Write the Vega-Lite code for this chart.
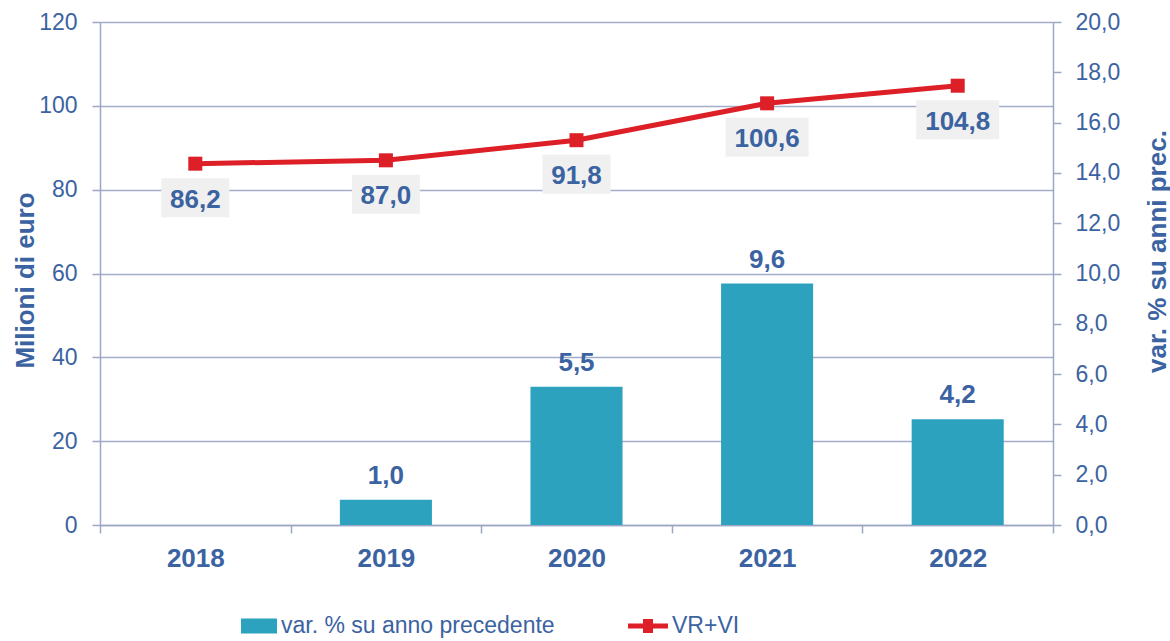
{
  "$schema": "https://vega.github.io/schema/vega-lite/v6.json",
  "width": 953,
  "height": 503,
  "autosize": {"type": "none"},
  "padding": {"left": 100, "top": 22, "right": 117, "bottom": 116},
  "background": "white",
  "config": {
    "view": {"stroke": null},
    "font": "Liberation Sans",
    "locale": {"number": {"decimal": ",", "thousands": ".", "grouping": [3], "currency": ["", " €"]}},
    "axis": {
      "domainColor": "#9CA7C5", "tickColor": "#9CA7C5", "gridColor": "#A3ADCA",
      "domainWidth": 1.5, "tickWidth": 1.5, "gridWidth": 1.5,
      "labelColor": "#3B63A1", "titleColor": "#3B63A1",
      "labelFont": "Liberation Sans", "titleFont": "Liberation Sans", "tickSize": 8
    }
  },
  "data": {"values": [
    {"anno": "2018", "vrvi": 86.2, "var": null},
    {"anno": "2019", "vrvi": 87.0, "var": 1.0},
    {"anno": "2020", "vrvi": 91.8, "var": 5.5},
    {"anno": "2021", "vrvi": 100.6, "var": 9.6},
    {"anno": "2022", "vrvi": 104.8, "var": 4.2}
  ]},
  "encoding": {
    "x": {
      "field": "anno", "type": "ordinal",
      "scale": {"paddingInner": 0, "paddingOuter": 0},
      "axis": {"title": null, "labelAngle": 0, "tickBand": "extent", "labelFontSize": 26, "labelFontWeight": "bold", "labelBaseline": "alphabetic", "labelPadding": 33, "grid": false}
    }
  },
  "layer": [
    {
      "encoding": {
        "y": {
          "field": "var", "type": "quantitative",
          "scale": {"domain": [0, 20], "nice": false},
          "axis": {
            "orient": "right", "values": [0, 2, 4, 6, 8, 10, 12, 14, 16, 18, 20], "format": ".1f",
            "grid": false, "labelFontSize": 23, "labelPadding": 14,
            "title": "var. % su anni prec.", "titleFontSize": 26, "titleFontWeight": "bold",
            "titleAngle": 270, "titleX": 112, "titleY": 229, "titleAlign": "center", "titleBaseline": "alphabetic"
          }
        }
      },
      "layer": [
        {
          "mark": {"type": "bar", "width": {"band": 0.483}},
          "encoding": {
            "color": {
              "datum": "var. % su anno precedente", "type": "nominal",
              "scale": {"range": ["#2DA2BF"]},
              "legend": {
                "orient": "none", "legendX": 141, "legendY": 586, "title": null, "padding": 0,
                "symbolType": "M-1,-0.417H1V0.417H-1Z", "symbolSize": 1296, "symbolStrokeWidth": 0,
                "labelFontSize": 23, "labelColor": "#3B63A1", "labelFont": "Liberation Sans", "labelOffset": 4, "labelLimit": 0
              }
            }
          }
        },
        {
          "mark": {"type": "text", "dy": -16, "baseline": "alphabetic", "fontSize": 26, "fontWeight": "bold", "color": "#3B63A1"},
          "encoding": {"text": {"field": "var", "type": "quantitative", "format": ".1f"}}
        }
      ]
    },
    {
      "encoding": {
        "y": {
          "field": "vrvi", "type": "quantitative",
          "scale": {"domain": [0, 120], "nice": false},
          "axis": {
            "orient": "left", "values": [0, 20, 40, 60, 80, 100, 120],
            "grid": true, "labelFontSize": 23, "labelPadding": 15,
            "title": "Milioni di euro", "titleFontSize": 26, "titleFontWeight": "bold",
            "titleAngle": 270, "titleX": -67, "titleY": 258, "titleAlign": "center", "titleBaseline": "alphabetic"
          }
        }
      },
      "layer": [
        {
          "mark": {"type": "line", "strokeWidth": 5},
          "encoding": {
            "color": {
              "datum": "VR+VI", "type": "nominal",
              "scale": {"range": ["#DD1F27"]},
              "legend": {
                "orient": "none", "legendX": 528, "legendY": 584, "title": null, "padding": 0,
                "symbolType": "M-1,-0.125H-0.25V-0.35H0.25V-0.125H1V0.125H0.25V0.35H-0.25V0.125H-1Z",
                "symbolSize": 1600, "symbolStrokeWidth": 0, "symbolFillColor": "#DD1F27",
                "labelFontSize": 23, "labelColor": "#3B63A1", "labelFont": "Liberation Sans", "labelOffset": 4, "labelLimit": 0,
                "encode": {"symbols": {"update": {"fill": {"value": "#DD1F27"}, "strokeWidth": {"value": 0}, "opacity": {"value": 1}}}}
              }
            }
          }
        },
        {
          "mark": {"type": "point", "shape": "square", "filled": true, "size": 196, "color": "#DD1F27", "opacity": 1}
        },
        {
          "mark": {"type": "point", "filled": true, "color": "#F0F0F0", "opacity": 1, "yOffset": 34},
          "encoding": {
            "shape": {"condition": {"test": "datum.vrvi >= 100", "value": "M-1,-0.47H1V0.47H-1Z"}, "value": "M-1,-0.574H1V0.574H-1Z"},
            "size": {"condition": {"test": "datum.vrvi >= 100", "value": 6889}, "value": 4624}
          }
        },
        {
          "mark": {"type": "text", "dy": 44, "baseline": "alphabetic", "fontSize": 26, "fontWeight": "bold", "color": "#3B63A1"},
          "encoding": {"text": {"field": "vrvi", "type": "quantitative", "format": ".1f"}}
        }
      ]
    }
  ],
  "resolve": {"scale": {"y": "independent", "color": "independent"}, "legend": {"color": "independent"}}
}
